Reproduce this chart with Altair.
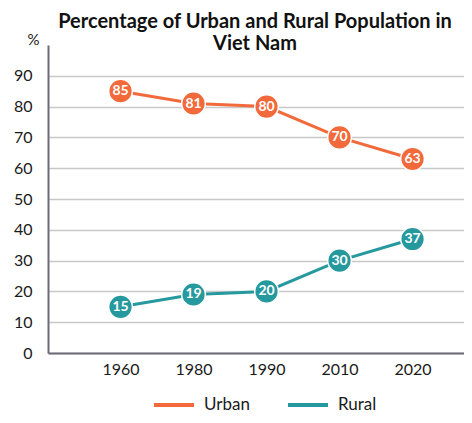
import altair as alt
import pandas as pd

years = ["1960", "1980", "1990", "2010", "2020"]
urban = [85, 81, 80, 70, 63]
rural = [15, 19, 20, 30, 37]
series = ["Urban", "Rural"]
colors = ["#F26A3B", "#26999F"]
y_ticks = [0, 10, 20, 30, 40, 50, 60, 70, 80, 90]

rows = []
for name, vals in zip(series, [urban, rural]):
    for yr, v in zip(years, vals):
        rows.append({"year": yr, "value": v, "series": name})
df = pd.DataFrame(rows)

FONT = "Lato"

x_enc = alt.X(
    "year:O",
    sort=years,
    scale=alt.Scale(type="point", padding=0.849, align=0.585),
    axis=alt.Axis(
        title=None, labelAngle=0, labelFontSize=16, labelColor="#1a1a1a",
        labelPadding=8, ticks=False, domainColor="#6b6b75", domainWidth=2,
        grid=False, labelFont=FONT,
    ),
)
y_enc = alt.Y(
    "value:Q",
    scale=alt.Scale(domain=[0, 100], nice=False),
    axis=alt.Axis(
        values=y_ticks, title="%", titleAngle=0, titleX=-15, titleY=-6,
        titleAlign="center", titleBaseline="middle", titleFontSize=15,
        titleFontWeight="normal", titleFont=FONT, titleColor="#1a1a1a",
        labelFontSize=16, labelColor="#1a1a1a", labelPadding=16, ticks=False,
        domainColor="#6b6b75", domainWidth=2, gridColor="#c8c8c8", gridWidth=1.5,
        labelFont=FONT,
    ),
)
color_enc = alt.Color(
    "series:N",
    sort=series,
    scale=alt.Scale(domain=series, range=colors),
    legend=alt.Legend(
        title=None, orient="none", direction="horizontal", legendX=104, legendY=338,
        symbolType="stroke", symbolSize=1600, symbolStrokeWidth=4,
        labelFontSize=17, labelFont=FONT, labelColor="#1a1a1a", columnPadding=30,
        labelOffset=8,
    ),
)

base = alt.Chart(df).encode(x=x_enc, y=y_enc, color=color_enc)

lines = base.mark_line(strokeWidth=3)
points = base.mark_point(filled=True, size=560, opacity=1, stroke="white", strokeWidth=1.5).encode(
    fill=alt.Fill("series:N", sort=series, scale=alt.Scale(domain=series, range=colors), legend=None)
)
labels = base.mark_text(color="white", fontSize=14, fontWeight="bold", font=FONT).encode(
    text=alt.Text("value:Q"), color=alt.value("white")
)

chart = (
    alt.layer(lines, points, labels)
    .properties(
        width=416,
        height=308,
        autosize=alt.AutoSizeParams(type="none"),
        padding={"left": 40, "top": 37, "right": 0, "bottom": 62},
        title=alt.Title(
            ["Percentage of Urban and Rural Population in", "Viet Nam"],
            fontSize=20, fontWeight="bold", font=FONT, color="#111111",
            anchor="middle", dx=-1, offset=-22, lineHeight=22,
        ),
    )
    .configure_view(stroke=None)
)

chart.save("out.html", embed_options={"renderer": "svg", "actions": False})
